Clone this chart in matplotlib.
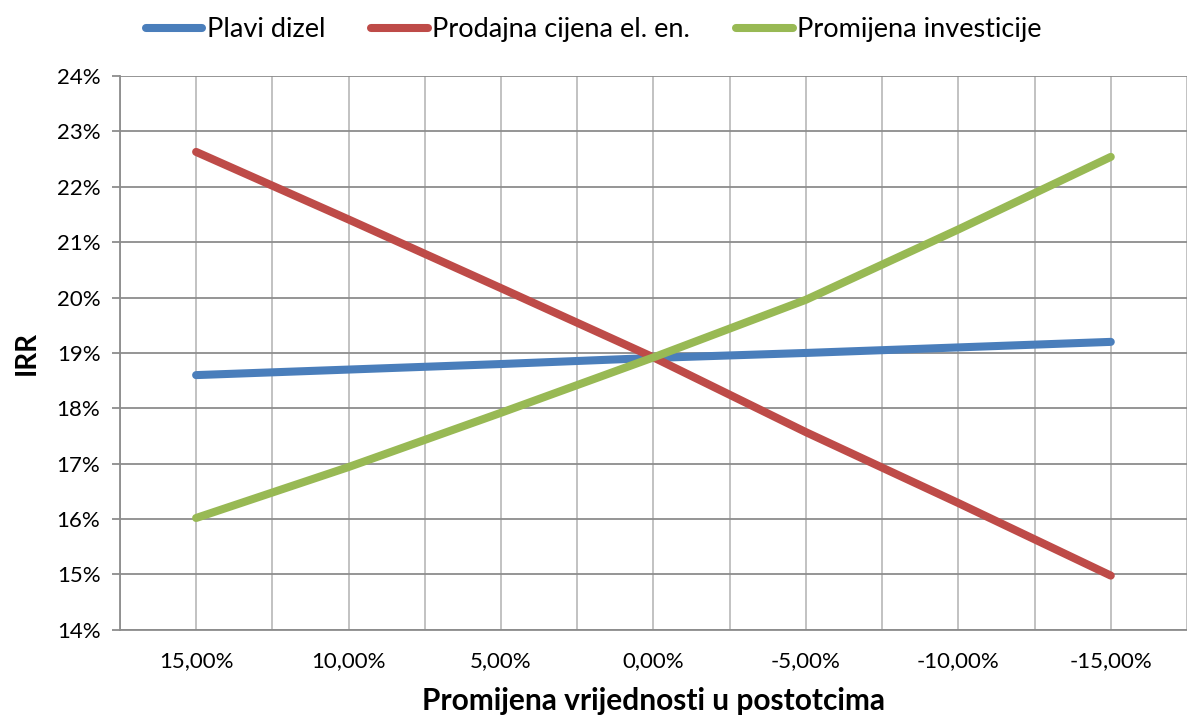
import numpy as np
import matplotlib
matplotlib.use("Agg")
import matplotlib.pyplot as plt
from matplotlib.ticker import FuncFormatter, MultipleLocator

# data (IRR in %)
promjena = [15, 10, 5, 0, -5, -10, -15]
plavi_dizel = [18.60, 18.70, 18.80, 18.91, 19.00, 19.10, 19.20]
prodajna_cijena = [22.63, 21.41, 20.17, 18.92, 17.57, 16.29, 14.98]
promjena_investicije = [16.02, 16.94, 17.92, 18.92, 19.96, 21.23, 22.54]

series_names = ["Plavi dizel", "Prodajna cijena el. en.", "Promijena investicije"]
series_colors = ["#4a7ebb", "#be4b48", "#98b954"]

plt.rcParams["font.family"] = ["Lato", "DejaVu Sans"]

fig = plt.figure(figsize=(11.87, 7.24), dpi=100)
ax = fig.add_axes([0.101, 0.13, 0.899, 0.765])

for vals, name, col in zip([plavi_dizel, prodajna_cijena, promjena_investicije],
                           series_names, series_colors):
    ax.plot(promjena, vals, color=col, lw=5.8, solid_capstyle="round",
            solid_joinstyle="round", label=name, zorder=3)

ax.set_xlim(17.5, -17.5)
ax.set_ylim(14, 24)
ax.xaxis.set_major_locator(MultipleLocator(5))
ax.xaxis.set_minor_locator(MultipleLocator(2.5))
ax.yaxis.set_major_locator(MultipleLocator(1))
ax.xaxis.set_major_formatter(FuncFormatter(lambda v, p: f"{v:.2f}%".replace(".", ",")))
ax.yaxis.set_major_formatter(FuncFormatter(lambda v, p: f"{v:.0f}%"))

ax.grid(axis="y", which="major", color="#8c8c8c", lw=1.3, zorder=1)
ax.grid(axis="x", which="both", color="#bdbdbd", lw=1.3, zorder=1)

for s in ["top", "right"]:
    ax.spines[s].set_visible(False)
ax.spines["left"].set_color("#8c8c8c")
ax.spines["left"].set_linewidth(1.3)
ax.spines["bottom"].set_color("#8c8c8c")
ax.spines["bottom"].set_linewidth(1.3)

ax.tick_params(axis="y", length=6, width=1.3, color="#8c8c8c", labelsize=16, pad=8)
ax.tick_params(axis="x", which="both", length=0, labelsize=16, pad=15)

ax.set_xlabel("Promijena vrijednosti u postotcima", fontsize=21.5, fontweight="bold", labelpad=12)
ax.set_ylabel("IRR", fontsize=20, fontweight="bold", labelpad=12)

leg = fig.legend(loc="upper center", bbox_to_anchor=(0.5, 1.01), ncol=3, frameon=False,
                 fontsize=19.5, handlelength=2.1, handletextpad=0.15, columnspacing=1.7)
for line in leg.get_lines():
    line.set_linewidth(5.8)

fig.savefig("out.png", dpi=100)
